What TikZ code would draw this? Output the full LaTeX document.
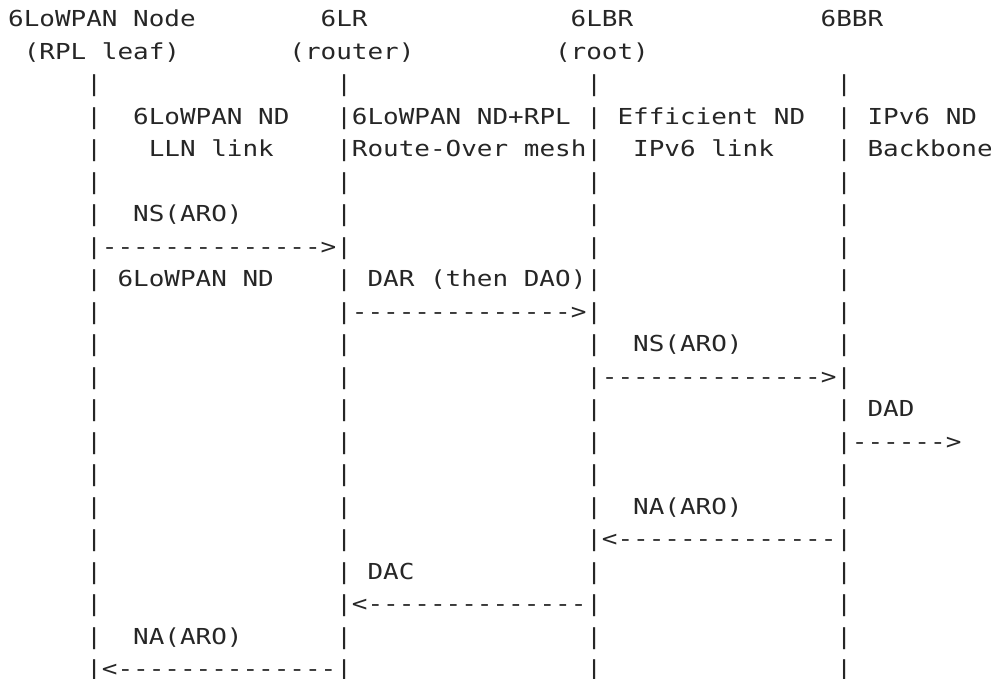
\documentclass[tikz,border=0pt]{standalone}
\usepackage{fontspec}
\setmonofont[FakeStretch=1.18]{DejaVu Sans Mono}
\usepackage{tikz}

\begin{document}
\begin{tikzpicture}[x=15.625pt, y=-32.5pt, shift={(8pt,-26.7pt)},
	ascii/.style={inner sep=0pt, anchor=base west, text=black!85,
		font=\ttfamily\fontsize{22pt}{26pt}\selectfont}]
	\path [use as bounding box] (-0.512, -0.8215) rectangle (62.91, 20.07);
	\node [ascii] (node) at (0, 0) {6LoWPAN Node};
	\node [ascii] (lr) at (20, 0) {6LR};
	\node [ascii] (lbr) at (36, 0) {6LBR};
	\node [ascii] (bbr) at (52, 0) {6BBR};
	\node [ascii] (leaf) at (1, 1) {(RPL leaf)};
	\node [ascii] (router) at (18, 1) {(router)};
	\node [ascii] (root) at (35, 1) {(root)};
	\foreach \c in {5, 21, 37, 53}
		\foreach \r in {2, ..., 20}
			\node [ascii] (p\c-\r) at (\c, \r) {|};
	\node [ascii] (lln1) at (8, 3) {6LoWPAN ND};
	\node [ascii] (lln2) at (9, 4) {LLN link};
	\node [ascii] (mesh1) at (22, 3) {6LoWPAN ND+RPL};
	\node [ascii] (mesh2) at (22, 4) {Route-Over mesh};
	\node [ascii] (eff1) at (39, 3) {Efficient ND};
	\node [ascii] (eff2) at (40, 4) {IPv6 link};
	\node [ascii] (bb1) at (55, 3) {IPv6 ND};
	\node [ascii] (bb2) at (55, 4) {Backbone};
	\node [ascii] (ns1) at (8, 6) {NS(ARO)};
	\node [ascii] (ns1a) at (6, 7) {-------------->};
	\node [ascii] (nd) at (7, 8) {6LoWPAN ND};
	\node [ascii] (dar) at (23, 8) {DAR (then DAO)};
	\node [ascii] (dara) at (22, 9) {-------------->};
	\node [ascii] (ns2) at (40, 10) {NS(ARO)};
	\node [ascii] (ns2a) at (38, 11) {-------------->};
	\node [ascii] (dad) at (55, 12) {DAD};
	\node [ascii] (dada) at (54, 13) {------>};
	\node [ascii] (na2) at (40, 15) {NA(ARO)};
	\node [ascii] (na2a) at (38, 16) {<--------------};
	\node [ascii] (dac) at (23, 17) {DAC};
	\node [ascii] (daca) at (22, 18) {<--------------};
	\node [ascii] (na1) at (8, 19) {NA(ARO)};
	\node [ascii] (na1a) at (6, 20) {<--------------};
\end{tikzpicture}
\end{document}
